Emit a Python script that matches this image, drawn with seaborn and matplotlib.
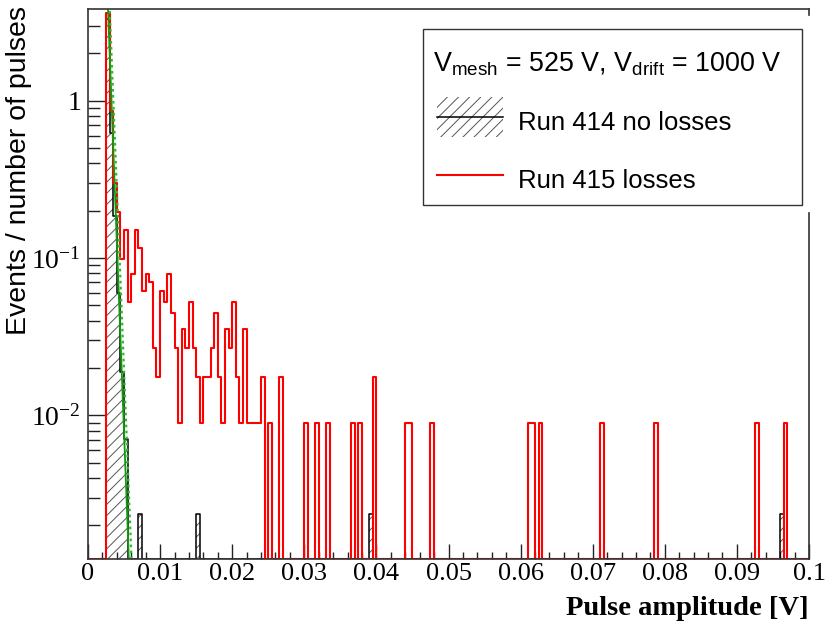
import numpy as np
import pandas as pd
import matplotlib
matplotlib.use("Agg")
import matplotlib.pyplot as plt
import matplotlib.transforms as mtransforms
from matplotlib.patches import Rectangle
import seaborn as sns

# ---------------- data ----------------
bin_width = 0.0005
n_bins = 200

red_bin_low = [0.0025, 0.0030, 0.0035, 0.0040, 0.0045, 0.0050, 0.0055, 0.0060,
               0.0065, 0.0070, 0.0075, 0.0080, 0.0085, 0.0090, 0.0095, 0.0100,
               0.0105, 0.0110, 0.0115, 0.0120, 0.0125, 0.0130, 0.0135, 0.0140,
               0.0145, 0.0150, 0.0155, 0.0160, 0.0165, 0.0170, 0.0175, 0.0180,
               0.0185, 0.0190, 0.0195, 0.0200, 0.0205, 0.0210, 0.0215, 0.0220,
               0.0225, 0.0230, 0.0235, 0.0240, 0.0250, 0.0265, 0.0300, 0.0315,
               0.0330, 0.0365, 0.0375, 0.0395, 0.0440, 0.0445, 0.0475, 0.0610,
               0.0615, 0.0625, 0.0710, 0.0785, 0.0925, 0.0965]
red_values = [3.6, 0.86, 0.30, 0.196, 0.098, 0.151, 0.0527, 0.079,
              0.151, 0.115, 0.062, 0.079, 0.0707, 0.0267, 0.0176, 0.0617,
              0.0527, 0.0788, 0.0445, 0.0267, 0.0089, 0.0352, 0.0267, 0.0527,
              0.0267, 0.0176, 0.0089, 0.0176, 0.0176, 0.0267, 0.0445, 0.0176,
              0.0089, 0.0352, 0.0267, 0.0527, 0.0176, 0.0089, 0.0352, 0.0089,
              0.0089, 0.0089, 0.0089, 0.0176, 0.0089, 0.0176, 0.0089, 0.0089,
              0.0089, 0.0089, 0.0089, 0.0176, 0.0089, 0.0089, 0.0089, 0.0089,
              0.0089, 0.0089, 0.0089, 0.0089, 0.0089, 0.0089]

black_bin_low = [0.0025, 0.0030, 0.0035, 0.0040, 0.0045, 0.0050,
                 0.0070, 0.0150, 0.0390, 0.0960]
black_values = [3.3, 0.62, 0.185, 0.0597, 0.0189, 0.0071,
                0.00237, 0.00237, 0.00237, 0.00237]

# exponential fits  f(x) = exp(p0 + p1 * x)
fit_solid = (9.07, -2786.0)
fit_dotted = (9.35, -2663.0)
fit_range = (0.0025, 0.0065)

x_ticks = [0.0, 0.01, 0.02, 0.03, 0.04, 0.05, 0.06, 0.07, 0.08, 0.09, 0.1]
x_tick_labels = ["0", "0.01", "0.02", "0.03", "0.04", "0.05", "0.06",
                 "0.07", "0.08", "0.09", "0.1"]
y_ticks = [1.0, 0.1, 0.01]
y_tick_labels = ["1", r"$\mathdefault{10^{-1}}$", r"$\mathdefault{10^{-2}}$"]

legend_header = r"V$_{\mathdefault{mesh}}$ = 525 V, V$_{\mathdefault{drift}}$ = 1000 V"
label_black = "Run 414 no losses"
label_red = "Run 415 losses"
x_label = "Pulse amplitude [V]"
y_label = "Events / number of pulses"

y_min, y_max = 1.216e-3, 3.81

# ---------------- build binned arrays ----------------
edges = np.linspace(0.0, n_bins * bin_width, n_bins + 1)
centers = 0.5 * (edges[:-1] + edges[1:])


def dense(lows, vals):
    h = np.zeros(n_bins)
    idx = np.rint(np.asarray(lows) / bin_width).astype(int)
    h[idx] = vals
    return h


red_h = dense(red_bin_low, red_values)
black_h = dense(black_bin_low, black_values)
# empty bins are drawn on the lower frame, as ROOT does on a log axis
df = pd.DataFrame({"x": centers,
                   "red": np.maximum(red_h, y_min),
                   "black": np.maximum(black_h, y_min)})
bin_list = [float(e) for e in edges]

# ---------------- figure ----------------
W, H = 830, 627
plt.rcParams["hatch.linewidth"] = 0.7
plt.rcParams["hatch.color"] = "#555555"
plt.rcParams["axes.unicode_minus"] = True

fig = plt.figure(figsize=(W / 100, H / 100), dpi=100)
fig.patch.set_facecolor("white")
ax_l, ax_r, ax_t, ax_b = 88, 809, 9.3, 559.3
ax = fig.add_axes([ax_l / W, 1 - ax_b / H, (ax_r - ax_l) / W, (ax_b - ax_t) / H])

# hatched fill of run 414
n_before = len(ax.collections)
sns.histplot(data=df, x="x", weights="black", bins=bin_list, element="step",
             fill=True, color="white", alpha=1, linewidth=0, ax=ax)
for poly in ax.collections[n_before:]:
    poly.set_facecolor("none")
    poly.set_edgecolor("#555555")
    poly.set_linewidth(0)
    poly.set_hatch("///")

# outline of run 414
sns.histplot(data=df, x="x", weights="black", bins=bin_list, element="step",
             fill=False, color="black", linewidth=1.1, ax=ax)
# run 415
sns.histplot(data=df, x="x", weights="red", bins=bin_list, element="step",
             fill=False, color="#ff0000", linewidth=1.5, ax=ax)

# fit curves
xf = np.linspace(fit_range[0], fit_range[1], 300)
sns.lineplot(x=xf, y=np.exp(fit_solid[0] + fit_solid[1] * xf), ax=ax,
             color="#109a10", linewidth=1.3)
sns.lineplot(x=xf, y=np.exp(fit_dotted[0] + fit_dotted[1] * xf), ax=ax,
             color="#30b830", linewidth=1.6, linestyle=(0, (1.2, 1.5)))

ax.set_yscale("log")
ax.set_xlim(0, 0.1)
ax.set_ylim(y_min, y_max)

# ticks
serif = "Liberation Serif"
sans = "Liberation Sans"
ax.set_xticks(x_ticks)
ax.set_xticklabels(x_tick_labels, family=serif, fontsize=19)
ax.xaxis.set_minor_locator(matplotlib.ticker.MultipleLocator(0.002))
ax.set_yticks(y_ticks)
ax.set_yticklabels(y_tick_labels, family=serif, fontsize=20)
ax.yaxis.set_minor_locator(matplotlib.ticker.LogLocator(base=10, subs=np.arange(2, 10)))
ax.yaxis.set_minor_formatter(matplotlib.ticker.NullFormatter())
ax.tick_params(axis="x", which="major", direction="in", length=10.8, width=1.0,
               pad=3, color="#222222")
ax.tick_params(axis="x", which="minor", direction="in", length=5.4, width=1.0,
               color="#222222")
ax.tick_params(axis="y", which="major", direction="in", length=13, width=1.0,
               pad=5, color="#222222")
ax.tick_params(axis="y", which="minor", direction="in", length=8.4, width=1.0,
               color="#222222")
ax.tick_params(top=False, right=False, which="both")

ax.set_xlabel(x_label, family=serif, fontweight="bold", fontsize=20.5, loc="right")
ax.xaxis.set_label_coords(1.0, -0.066)
ax.set_ylabel(y_label, family=sans, fontsize=20.5, loc="top")
ax.yaxis.set_label_coords(-0.078, 1.006)

for s in ["left", "bottom", "top"]:
    ax.spines[s].set_color("#333333")
    ax.spines[s].set_linewidth(1.2)
ax.spines["right"].set_visible(False)

# right frame, hidden behind the legend box in the reference
T = mtransforms.Affine2D().scale(1 / W, -1 / H).translate(0, 1) + fig.transFigure
fig.add_artist(matplotlib.lines.Line2D([ax_r, ax_r], [ax_t, 15], transform=T,
                                       color="#333333", lw=1.2))
fig.add_artist(matplotlib.lines.Line2D([ax_r, ax_r], [213, ax_b], transform=T,
                                       color="#333333", lw=1.2))

# ---------------- legend (ROOT style box) ----------------
fig.add_artist(Rectangle((423.3, 29.3), 801.7 - 423.3, 205 - 29.3, transform=T,
                         facecolor="white", edgecolor="#333333", lw=1.0, zorder=5))
fig.text(433, 71.7, legend_header, transform=T, family=sans, fontsize=19.4,
         va="baseline", ha="left", zorder=6)
fig.add_artist(Rectangle((437, 97), 66, 40, transform=T, facecolor="none",
                         edgecolor="#555555", lw=0, hatch="///", zorder=6))
fig.add_artist(matplotlib.lines.Line2D([437, 503], [117, 117], transform=T,
                                       color="black", lw=1.1, zorder=7))
fig.text(518, 130, label_black, transform=T, family=sans, fontsize=18.5,
         va="baseline", ha="left", zorder=6)
fig.add_artist(matplotlib.lines.Line2D([437, 503], [175, 175], transform=T,
                                       color="#ff0000", lw=1.5, zorder=7))
fig.text(518, 188.3, label_red, transform=T, family=sans, fontsize=18.5,
         va="baseline", ha="left", zorder=6)

fig.savefig("out.png", dpi=100)
